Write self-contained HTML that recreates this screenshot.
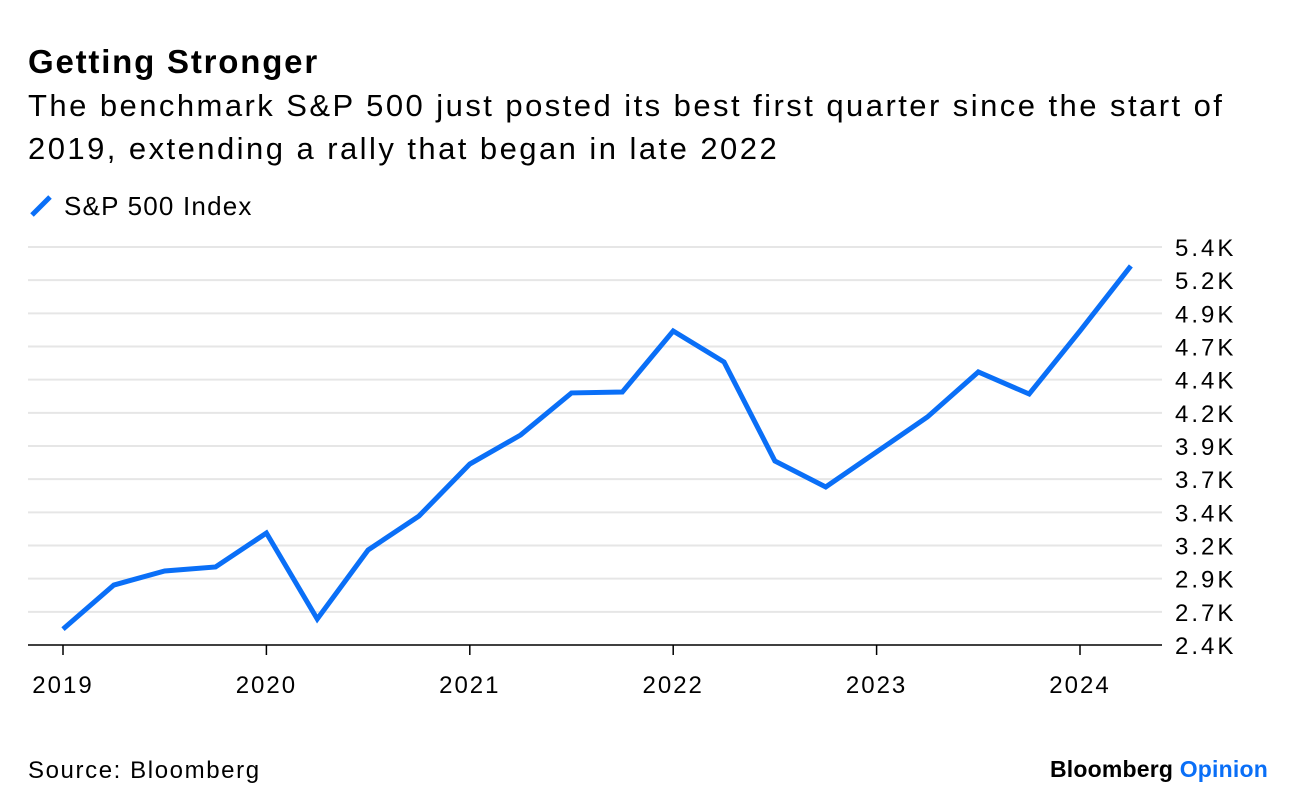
<!DOCTYPE html>
<html><head><meta charset="utf-8"><style>
body{margin:0;background:#fff;font-family:"Liberation Sans",Arial,sans-serif;color:#000}
#wrap{position:relative;width:1296px;height:812px;overflow:hidden}
.t{position:absolute;white-space:nowrap}
</style></head><body>
<div id="wrap">
<div class="t" style="left:28px;top:43px;font-size:33px;font-weight:bold;letter-spacing:1.8px">Getting Stronger</div>
<div class="t" style="left:28px;top:84px;font-size:31px;line-height:43px;letter-spacing:2.45px">The benchmark S&amp;P 500 just posted its best first quarter since the start of<br>2019, extending a rally that began in late 2022</div>
<div class="t" style="left:28px;top:191px;font-size:26px;letter-spacing:1.2px">
<svg width="36" height="26" style="vertical-align:-4px"><line x1="4" y1="22" x2="22" y2="4" stroke="#0a6ff7" stroke-width="5"/></svg>S&amp;P 500 Index</div>
<svg id="chart" width="1296" height="812" style="position:absolute;left:0;top:0"></svg>
<div class="t" style="left:28px;top:757px;font-size:24px;letter-spacing:1.6px">Source: Bloomberg</div>
<div class="t" style="right:28px;top:756px;font-size:23px;font-weight:bold;letter-spacing:0.2px">Bloomberg <span style="color:#0a6ff7">Opinion</span></div>
</div>
<script>
const dates=[2019,2019.25,2019.5,2019.75,2020,2020.25,2020.5,2020.75,2021,2021.25,2021.5,2021.75,2022,2022.25,2022.5,2022.75,2023,2023.25,2023.5,2023.75,2024,2024.25];
const values=[2520,2852,2958,2988,3244,2596,3116,3372,3764,3983,4300,4307,4767,4533,3787,3591,3855,4119,4458,4292,4767,5257];
const yTicks=[2400,2650,2900,3150,3400,3650,3900,4150,4400,4650,4900,5150,5400];
const yTickLabels=["2.4K","2.7K","2.9K","3.2K","3.4K","3.7K","3.9K","4.2K","4.4K","4.7K","4.9K","5.2K","5.4K"];
const xTicks=[2019,2020,2021,2022,2023,2024];
const ns="http://www.w3.org/2000/svg";
const svg=document.getElementById('chart');
const x=d=>63+(d-2019)*203.4;
const y=v=>645-(v-2400)/3000*398;
function mk(t,a){const e=document.createElementNS(ns,t);for(const k in a)e.setAttribute(k,a[k]);svg.appendChild(e);return e;}
yTicks.forEach((v,i)=>{
 if(i>0){const g=mk('line',{x1:28,x2:1162,y1:y(v),y2:y(v),stroke:'#e6e6e6','stroke-width':2});
 
 }
 const t=mk('text',{x:1175,y:y(v)+9,'font-size':24,'letter-spacing':3,'font-family':'Liberation Sans, Arial, sans-serif'});
 t.textContent=yTickLabels[i];
 
 
});
const ax=mk('line',{x1:28,x2:1162,y1:645,y2:645,stroke:'#000','stroke-width':1.5});


xTicks.forEach(d=>{
 const tk=mk('line',{x1:x(d),x2:x(d),y1:645,y2:655,stroke:'#000','stroke-width':1.5});
 
 
 const t=mk('text',{x:x(d),y:693,'font-size':24,'letter-spacing':2,'text-anchor':'middle','font-family':'Liberation Sans, Arial, sans-serif'});
 t.textContent=d;
 
 
});
const p=mk('polyline',{points:dates.map((d,i)=>x(d)+','+y(values[i])).join(' '),fill:'none',stroke:'#0a6ff7','stroke-width':5,'stroke-linejoin':'miter'});


</script>
</body></html>
